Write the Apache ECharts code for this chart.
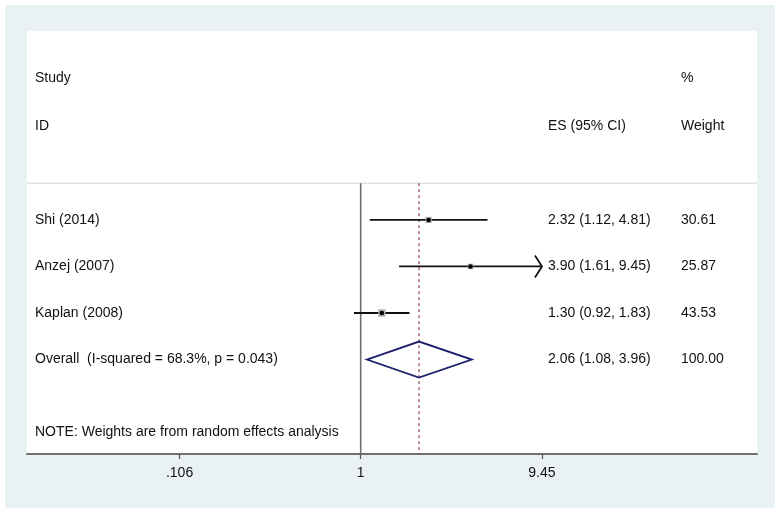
<!DOCTYPE html>
<html><head><meta charset="utf-8">
<script src="https://cdn.jsdelivr.net/npm/echarts@6/dist/echarts.min.js"></script>
<style>
html,body{margin:0;padding:0;background:#fff}
#wrap{position:relative;width:780px;height:513px;overflow:hidden}
#frame{position:absolute;left:5px;top:5px;width:770px;height:503px;background:#e9f1f4}
#panel{position:absolute;left:27px;top:31px;width:730px;height:423px;background:#fff}
#c{position:absolute;left:0;top:0;width:780px;height:513px}
</style>
</head><body>
<div id="wrap"><div id="frame"></div><div id="panel"></div><div id="c"></div></div>
<script>
// ---- data ----
const studies = ['Shi (2014)', 'Anzej (2007)', 'Kaplan (2008)'];
const es = [2.32, 3.90, 1.30];
const ciLow = [1.12, 1.61, 0.92];
const ciHigh = [4.81, 9.45, 1.83];
const weights = [30.61, 25.87, 43.53];
const overallLabel = 'Overall  (I-squared = 68.3%, p = 0.043)';
const overallES = 2.06;
const overallLow = 1.08;
const overallHigh = 3.96;
const overallWeight = 100.00;
const tickValues = [0.106, 1, 9.45];
const tickLabels = ['.106', '1', '9.45'];
const noteText = 'NOTE: Weights are from random effects analysis';
const headerTop = ['Study', '', '%'];
const headerBottom = ['ID', 'ES (95% CI)', 'Weight'];

// ---- layout ----
const FONT = "'Liberation Sans', Arial, sans-serif";
const FS = 14;
const colX = [35, 548, 681];
const rowStudy0 = 1;           // first study row
const overallRow = rowStudy0 + studies.length;
const noteRow = 5.56;
const headerRows = [-2.05, -1.02];
const sepRow = 0.21;
const yMin = -3.06, yMax = 6.03;
const xMin = 0.01601, xMax = 135.7;
const plotMax = tickValues[tickValues.length - 1];

const fmt = v => v.toFixed(2);
const esText = (e, l, h) => fmt(e) + ' (' + fmt(l) + ', ' + fmt(h) + ')';

// text items: [x(dummy), row, col, text]
const textItems = [];
headerTop.forEach((t, c) => { if (t) textItems.push([1, headerRows[0], c, t]); });
headerBottom.forEach((t, c) => { if (t) textItems.push([1, headerRows[1], c, t]); });
studies.forEach((s, i) => {
  const r = rowStudy0 + i;
  textItems.push([1, r, 0, s]);
  textItems.push([1, r, 1, esText(es[i], ciLow[i], ciHigh[i])]);
  textItems.push([1, r, 2, fmt(weights[i])]);
});
textItems.push([1, overallRow, 0, overallLabel]);
textItems.push([1, overallRow, 1, esText(overallES, overallLow, overallHigh)]);
textItems.push([1, overallRow, 2, fmt(overallWeight)]);
textItems.push([1, noteRow, 0, noteText]);

const studyData = studies.map((s, i) => [es[i], ciLow[i], Math.min(ciHigh[i], plotMax), rowStudy0 + i, weights[i], ciHigh[i] >= plotMax ? 1 : 0]);

const chart = echarts.init(document.getElementById('c'), null, {renderer: 'canvas'});
chart.setOption({
  animation: false,
  backgroundColor: 'transparent',
  grid: {left: 27, right: 23, top: 31, bottom: 59, containLabel: false, outerBoundsMode: 'none'},
  xAxis: {
    type: 'log', logBase: 10, min: xMin, max: xMax,
    splitLine: {show: false},
    axisLine: {show: true, onZero: false, lineStyle: {color: '#6f6f6f', width: 2}},
    axisTick: {show: true, customValues: tickValues, length: 5, lineStyle: {color: '#555', width: 1.2}},
    axisLabel: {
      show: true, customValues: tickValues, margin: 12,
      color: '#111', fontFamily: FONT, fontSize: FS,
      formatter: v => {
        const k = tickValues.findIndex(t => Math.abs(t - v) < 1e-6 * Math.max(1, t));
        return k >= 0 ? tickLabels[k] : '';
      }
    }
  },
  yAxis: {type: 'value', inverse: true, min: yMin, max: yMax, show: false},
  series: [
    { // separator + reference lines
      type: 'custom', silent: true, z: 1,
      data: [[1, 0], [overallES, 1]],
      encode: {x: 0, y: 1},
      renderItem: (params, api) => {
        const cs = params.coordSys;
        const x = api.value(0);
        const top = api.coord([x, sepRow]);
        const bot = api.coord([x, yMax]);
        const kind = api.value(1);
        const children = [];
        if (kind === 0) {
          children.push({type: 'line', shape: {x1: cs.x, y1: top[1], x2: cs.x + cs.width, y2: top[1]},
            style: {stroke: '#d4d4d4', lineWidth: 1}});
          children.push({type: 'line', shape: {x1: top[0], y1: top[1], x2: bot[0], y2: bot[1]},
            style: {stroke: '#6f6f6f', lineWidth: 1.6}});
        } else {
          children.push({type: 'line', shape: {x1: top[0], y1: top[1], x2: bot[0], y2: bot[1]},
            style: {stroke: '#8f3249', lineWidth: 1.1, lineDash: [3, 3]}});
        }
        return {type: 'group', children};
      }
    },
    { // studies
      type: 'custom', z: 3,
      data: studyData,
      encode: {x: [0, 1, 2], y: 3},
      renderItem: (params, api) => {
        const y = api.value(3);
        const pE = api.coord([api.value(0), y]);
        const pL = api.coord([api.value(1), y]);
        const pH = api.coord([api.value(2), y]);
        const side = Math.sqrt(api.value(4)) * 1.12;
        const children = [
          {type: 'line', shape: {x1: pL[0], y1: pL[1], x2: pH[0], y2: pH[1]}, style: {stroke: '#111', lineWidth: 1.8}},
          {type: 'rect', shape: {x: pE[0] - side / 2, y: pE[1] - side / 2, width: side, height: side}, style: {fill: '#b0b0b0'}},
          {type: 'circle', shape: {cx: pE[0], cy: pE[1], r: 2.3}, style: {fill: '#000'}}
        ];
        if (api.value(5) === 1) {
          children.push({type: 'polyline', shape: {points: [[pH[0] - 7, pH[1] - 11], [pH[0], pH[1]], [pH[0] - 7, pH[1] + 11]]},
            style: {stroke: '#111', lineWidth: 1.8, fill: null}});
        }
        return {type: 'group', children};
      }
    },
    { // overall diamond
      type: 'custom', z: 3,
      data: [[overallES, overallLow, overallHigh, overallRow]],
      encode: {x: [0, 1, 2], y: 3},
      renderItem: (params, api) => {
        const y = api.value(3);
        const pE = api.coord([api.value(0), y]);
        const pL = api.coord([api.value(1), y]);
        const pH = api.coord([api.value(2), y]);
        const h = 18;
        return {type: 'polygon', shape: {points: [[pL[0], pL[1]], [pE[0], pE[1] - h], [pH[0], pH[1]], [pE[0], pE[1] + h]]},
          style: {stroke: '#1e1e6e', lineWidth: 1.8, fill: null}};
      }
    },
    { // texts
      type: 'custom', z: 4, silent: true,
      data: textItems,
      encode: {x: 0, y: 1},
      dimensions: ['x', 'row', 'col', {name: 'text', type: 'ordinal'}],
      renderItem: (params, api) => {
        const item = textItems[params.dataIndex];
        const p = api.coord([1, item[1]]);
        return {type: 'text', x: colX[item[2]], y: p[1],
          style: {text: item[3], fill: '#111', font: FS + 'px ' + FONT, textAlign: 'left', textVerticalAlign: 'middle'}};
      }
    }
  ]
});
</script>
</body></html>
